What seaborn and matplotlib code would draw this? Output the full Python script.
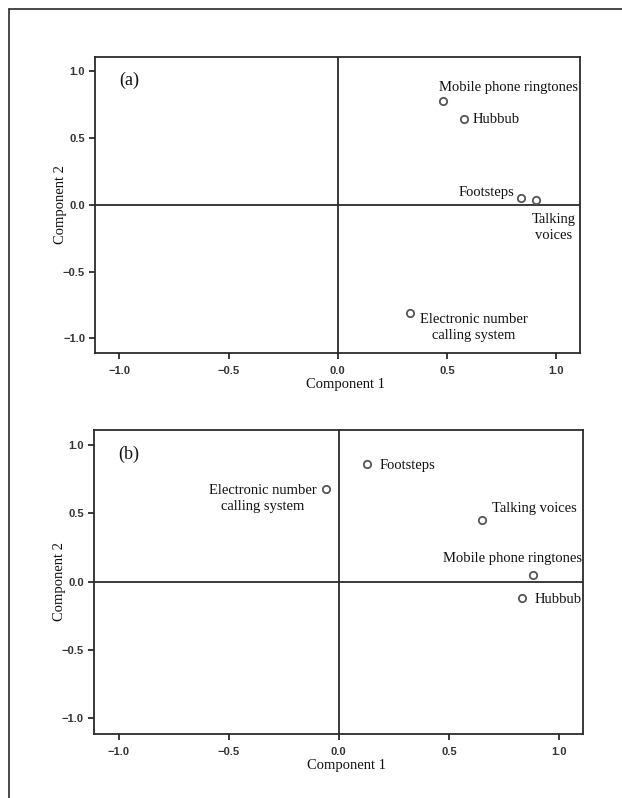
import matplotlib
matplotlib.use("Agg")
import matplotlib.pyplot as plt
import pandas as pd
import seaborn as sns

# panel (a)
a_labels = ["Mobile phone ringtones", "Hubbub", "Footsteps", "Talking\nvoices",
            "Electronic number\ncalling system"]
a_comp1 = [0.48, 0.58, 0.84, 0.91, 0.33]
a_comp2 = [0.78, 0.64, 0.05, 0.04, -0.81]

# panel (b)
b_labels = ["Footsteps", "Electronic number\ncalling system", "Talking voices",
            "Mobile phone ringtones", "Hubbub"]
b_comp1 = [0.13, -0.06, 0.65, 0.88, 0.83]
b_comp2 = [0.86, 0.68, 0.45, 0.05, -0.12]

ticks = [-1.0, -0.5, 0.0, 0.5, 1.0]
tick_labels = ["\u22121.0", "\u22120.5", "0.0", "0.5", "1.0"]

# label placement (offset pixels, alignment)
a_offsets = [((-4, 13), "left"), ((8, 0), "left"), ((-7, 6), "right"),
             ((17, -28), "center"), ((10, -15), "left")]
b_offsets = [((12, -1), "left"), ((-9, -10), "right"), ((10, 12), "left"),
             ((49, 16), "right"), ((13, -1), "left")]

sns.set_theme(style="white")
plt.rcParams["font.family"] = ["Liberation Serif", "DejaVu Serif"]

SERIF = ["Liberation Serif", "DejaVu Serif"]
SANS = ["Liberation Sans", "DejaVu Sans"]
INK = "#2b2b2b"

fig = plt.figure(figsize=(6.22, 7.98), dpi=100)
# partial frame around the figure (top and left edge only)
fig.add_artist(plt.Line2D([9 / 622, 9 / 622], [0, 1 - 9 / 798], color=INK, lw=1.2,
                          transform=fig.transFigure))
fig.add_artist(plt.Line2D([9 / 622, 1], [1 - 9 / 798, 1 - 9 / 798], color=INK, lw=1.2,
                          transform=fig.transFigure))

ax_a = fig.add_axes([0.1535, 0.5576, 0.779, 0.3713])
ax_b = fig.add_axes([0.1516, 0.0808, 0.786, 0.3803])

panels = [
    (ax_a, a_labels, a_comp1, a_comp2, a_offsets, "(a)"),
    (ax_b, b_labels, b_comp1, b_comp2, b_offsets, "(b)"),
]

for ax, labels, c1, c2, offsets, tag in panels:
    frame = pd.DataFrame({"label": labels, "c1": c1, "c2": c2})
    ax.axhline(0, color=INK, lw=1.3, zorder=1)
    ax.axvline(0, color=INK, lw=1.3, zorder=1)
    sns.scatterplot(data=frame, x="c1", y="c2", ax=ax, s=28, marker="o",
                    facecolor="white", edgecolor="#555555", linewidth=1.3, zorder=3)
    for (_, row), ((dx, dy), ha) in zip(frame.iterrows(), offsets):
        ax.annotate(row["label"], (row["c1"], row["c2"]), xytext=(dx, dy),
                    textcoords="offset pixels", ha=ha, va="center",
                    multialignment="center", linespacing=1.3, fontsize=10.5,
                    family=SERIF, color="#111111")
    ax.set_xlim(-1.11, 1.11)
    ax.set_ylim(-1.11, 1.11)
    ax.set_xticks(ticks, labels=tick_labels)
    ax.set_yticks(ticks, labels=tick_labels)
    for lab in ax.get_xticklabels() + ax.get_yticklabels():
        lab.set_fontfamily(SANS)
        lab.set_fontweight("bold")
        lab.set_fontsize(8)
        lab.set_color("#333333")
    ax.tick_params(axis="x", pad=5.5)
    ax.tick_params(axis="y", pad=3.5)
    ax.tick_params(axis="both", direction="out", length=4, width=1.3, color=INK,
                   bottom=True, left=True)
    ax.set_xlabel("Component 1", fontsize=10.5, family=SERIF, color="#111111")
    ax.set_ylabel("Component 2", fontsize=10.5, family=SERIF, color="#111111")
    ax.xaxis.set_label_coords(0.515, -0.085)
    ax.yaxis.set_label_coords(-0.058, 0.5)
    for spine in ax.spines.values():
        spine.set_color(INK)
        spine.set_linewidth(1.3)
    ax.text(0.05, 0.92, tag, transform=ax.transAxes, fontsize=13, family=SERIF,
            ha="left", va="center", color="#111111")

fig.savefig("out.png", dpi=100)
